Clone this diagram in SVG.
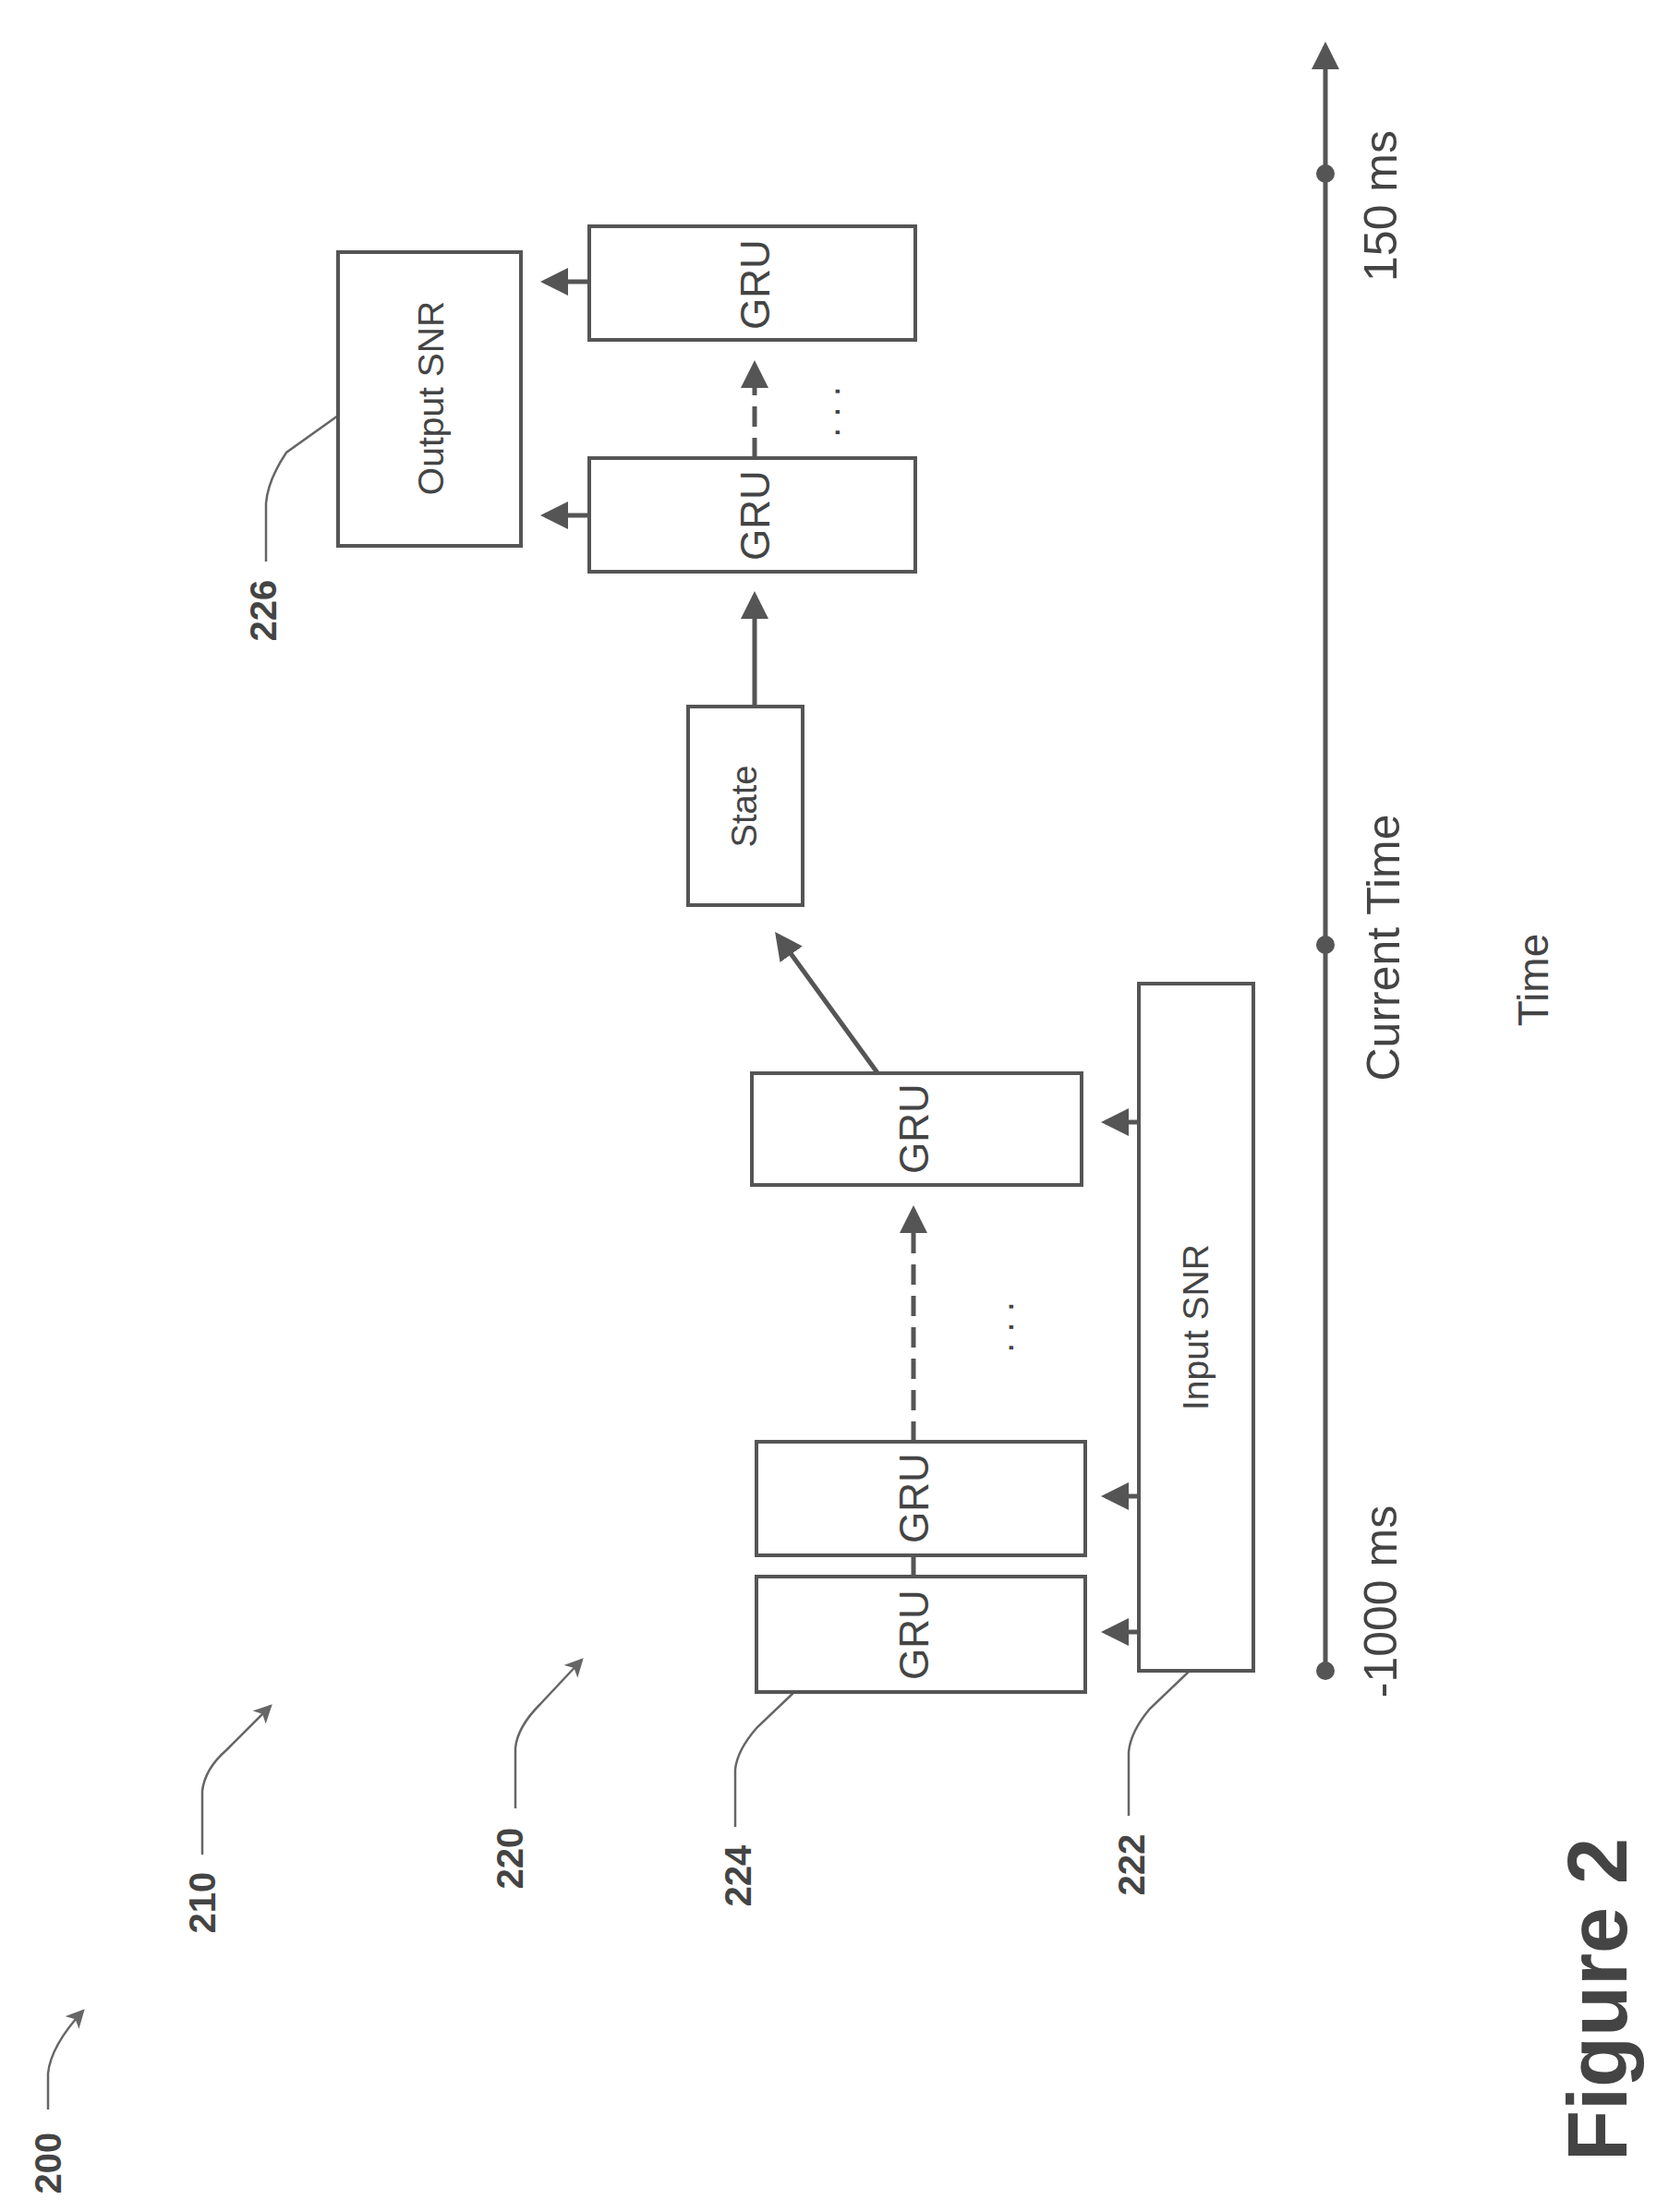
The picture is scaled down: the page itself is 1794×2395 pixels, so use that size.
<svg xmlns="http://www.w3.org/2000/svg" width="1794" height="2395" viewBox="0 0 1794 2395">
<style>
.box{fill:#fff;stroke:#555;stroke-width:4}
.t{font-family:"Liberation Sans",Arial,sans-serif;fill:#444;text-anchor:middle;dominant-baseline:central}
.lbl{font-family:"Liberation Sans",Arial,sans-serif;fill:#444;font-weight:bold;text-anchor:middle;dominant-baseline:central;font-size:40px}
.ln{fill:none;stroke:#555;stroke-width:5}
.ld{fill:none;stroke:#666;stroke-width:2.5}
</style>
<defs>
<marker id="ah" markerWidth="6" markerHeight="6" refX="5" refY="3" orient="auto" markerUnits="strokeWidth"><path d="M0,0 L6,3 L0,6 Z" fill="#555"/></marker>
<marker id="al" markerWidth="8" markerHeight="8" refX="7" refY="4" orient="auto" markerUnits="strokeWidth"><path d="M0,0 L8,4 L0,8 L2,4 Z" fill="#666"/></marker>
</defs>
<g id="connectors">
<line class="ln" x1="1435" y1="1809" x2="1435" y2="50" marker-end="url(#ah)"/>
<circle cx="1435" cy="188" r="10" fill="#555"/>
<circle cx="1435" cy="1023" r="10" fill="#555"/>
<circle cx="1435" cy="1809" r="10" fill="#555"/>
<line class="ln" x1="638" y1="305" x2="590" y2="305" marker-end="url(#ah)"/>
<line class="ln" x1="638" y1="558" x2="590" y2="558" marker-end="url(#ah)"/>
<line class="ln" x1="817" y1="496" x2="817" y2="395" stroke-dasharray="22 12" marker-end="url(#ah)"/>
<line class="ln" x1="817" y1="765" x2="817" y2="645" marker-end="url(#ah)"/>
<line class="ln" x1="975" y1="1196" x2="842" y2="1013" marker-end="url(#ah)"/>
<line class="ln" x1="989" y1="1561" x2="989" y2="1310" stroke-dasharray="22 12" marker-end="url(#ah)"/>
<line class="ln" x1="989" y1="1684" x2="989" y2="1707"/>
<line class="ln" x1="1233" y1="1215" x2="1197" y2="1215" marker-end="url(#ah)"/>
<line class="ln" x1="1233" y1="1620" x2="1197" y2="1620" marker-end="url(#ah)"/>
<line class="ln" x1="1233" y1="1767" x2="1197" y2="1767" marker-end="url(#ah)"/>
<path class="ld" d="M288,608 L288,545 Q290,520 310,490 L366,450"/>
<path class="ld" d="M52,2284 L52,2245 Q55,2215 90,2177" marker-end="url(#al)"/>
<path class="ld" d="M219,2008 L219,1939 Q222,1915 245,1895 L293,1847" marker-end="url(#al)"/>
<path class="ld" d="M558,1958 L558,1893 Q560,1870 585,1845 L630,1797" marker-end="url(#al)"/>
<path class="ld" d="M796,1978 L796,1916 Q798,1895 820,1870 L860,1832"/>
<path class="ld" d="M1222,1966 L1222,1897 Q1224,1875 1245,1850 L1288,1809"/>
</g>
<g id="output-snr"><rect class="box" x="366" y="273" width="198" height="318"/><text class="t" font-size="39" transform="rotate(-90 466 431)" x="466" y="431">Output SNR</text></g>
<g id="gru-a"><rect class="box" x="638" y="245" width="353" height="123"/><text class="t" font-size="44" transform="rotate(-90 817 308)" x="817" y="308">GRU</text></g>
<g id="gru-b"><rect class="box" x="638" y="496" width="353" height="123"/><text class="t" font-size="44" transform="rotate(-90 817 558)" x="817" y="558">GRU</text></g>
<g id="dots1"><text class="t" font-size="40" transform="rotate(-90 895 446)" x="895" y="446">. . .</text></g>
<g id="state"><rect class="box" x="745" y="765" width="124" height="215"/><text class="t" font-size="38" transform="rotate(-90 806 873)" x="806" y="873">State</text></g>
<g id="gru-c"><rect class="box" x="814" y="1162" width="357" height="121"/><text class="t" font-size="44" transform="rotate(-90 989 1222)" x="989" y="1222">GRU</text></g>
<g id="dots2"><text class="t" font-size="40" transform="rotate(-90 1083 1437)" x="1083" y="1437">. . .</text></g>
<g id="gru-d"><rect class="box" x="819" y="1561" width="356" height="123"/><text class="t" font-size="44" transform="rotate(-90 989 1622)" x="989" y="1622">GRU</text></g>
<g id="gru-e"><rect class="box" x="819" y="1707" width="356" height="125"/><text class="t" font-size="44" transform="rotate(-90 989 1770)" x="989" y="1770">GRU</text></g>
<g id="input-snr"><rect class="box" x="1233" y="1065" width="124" height="744"/><text class="t" font-size="39" transform="rotate(-90 1294 1437)" x="1294" y="1437">Input SNR</text></g>
<g id="axis-labels">
<text class="t" font-size="50" transform="rotate(-90 1495 223)" x="1495" y="223">150 ms</text>
<text class="t" font-size="50" transform="rotate(-90 1498 1026)" x="1498" y="1026">Current Time</text>
<text class="t" font-size="50" transform="rotate(-90 1495 1734)" x="1495" y="1734">-1000 ms</text>
<text class="t" font-size="46" transform="rotate(-90 1660 1061)" x="1660" y="1061">Time</text>
</g>
<g id="refs">
<text class="lbl" transform="rotate(-90 285 661)" x="285" y="661">226</text>
<text class="lbl" transform="rotate(-90 52 2342)" x="52" y="2342">200</text>
<text class="lbl" transform="rotate(-90 219 2060)" x="219" y="2060">210</text>
<text class="lbl" transform="rotate(-90 552 2012)" x="552" y="2012">220</text>
<text class="lbl" transform="rotate(-90 799 2031)" x="799" y="2031">224</text>
<text class="lbl" transform="rotate(-90 1225 2019)" x="1225" y="2019">222</text>
<text class="lbl" style="font-size:90px" transform="rotate(-90 1730 2165)" x="1730" y="2165">Figure 2</text>
</g>
</svg>
